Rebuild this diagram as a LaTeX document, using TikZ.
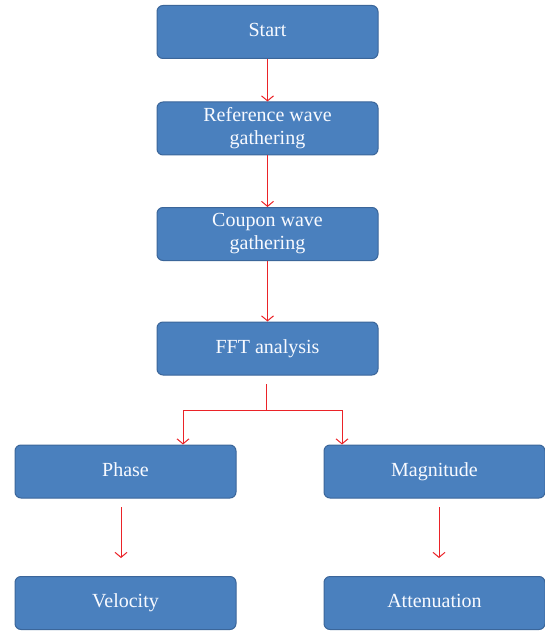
\documentclass[tikz,border=0pt]{standalone}
\usepackage{fontspec}
\setmainfont{Liberation Serif}
\usetikzlibrary{arrows.meta}
\definecolor{boxfill}{RGB}{74,128,190}
\definecolor{boxline}{RGB}{59,102,154}
\definecolor{arrred}{RGB}{235,35,40}
\definecolor{txt}{RGB}{248,250,255}
\tikzset{
  stepbox/.style={draw=boxline, line width=1pt, fill=boxfill, rounded corners=6pt,
    minimum width=221pt, minimum height=53pt, inner sep=0pt, align=center,
    text=txt, font=\fontsize{20}{23}\selectfont},
  oneline/.style={stepbox, text height=14pt, text depth=4.5pt},
  link/.style={draw=arrred, line width=1pt},
  arr/.style={link, -{Straight Barb[length=5pt,width=12pt]}}
}
\begin{document}
\begin{tikzpicture}[x=1pt,y=-1pt]
\useasboundingbox (0,0) rectangle (545,631);
\node[oneline] (start) at (267.5,32) {Start};
\node[stepbox] (ref) at (267.5,128.5) {Reference wave\\gathering};
\node[stepbox] (coup) at (267.5,234) {Coupon wave\\gathering};
\node[oneline] (fft) at (267.5,348.5) {FFT analysis};
\node[oneline] (phase) at (125.5,471.5) {Phase};
\node[oneline] (mag) at (434.5,471.5) {Magnitude};
\node[oneline] (vel) at (125.5,603) {Velocity};
\node[oneline] (att) at (434.5,603) {Attenuation};

\draw[arr] (start) -- (ref);
\draw[arr] (ref) -- (coup);
\draw[arr] (coup) -- (fft);

\coordinate (b0) at (266,384);
\coordinate (bj) at (266,410);
\coordinate (bl) at (183,410);
\coordinate (br) at (342,410);
\draw[link] (b0) -- (bj);
\draw[link] (bl) -- (br);
\draw[arr] (bl) -- (bl |- phase.north);
\draw[arr] (br) -- (br |- mag.north);

\coordinate (v1) at (121,507);
\coordinate (v2) at (121,558);
\coordinate (a1) at (439,507);
\coordinate (a2) at (439,558);
\draw[arr] (v1) -- (v2);
\draw[arr] (a1) -- (a2);
\end{tikzpicture}
\end{document}
